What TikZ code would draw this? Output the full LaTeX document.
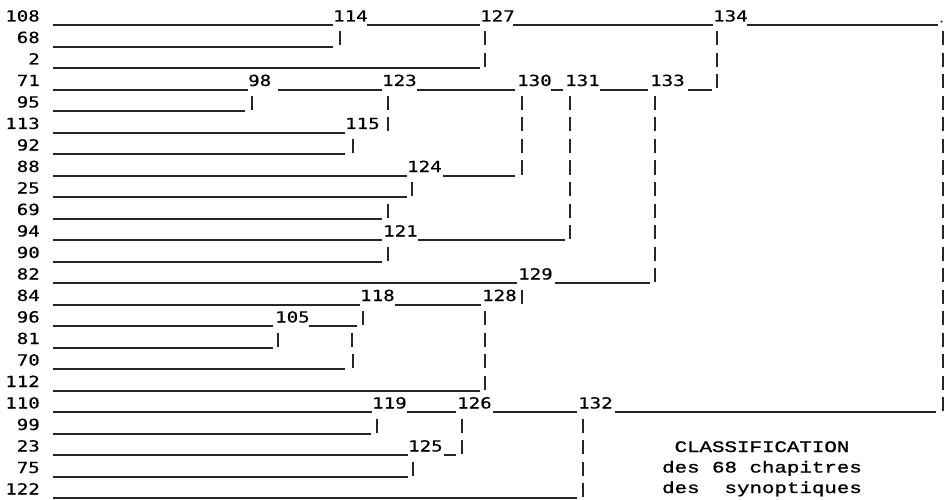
\documentclass[tikz,border=0pt]{standalone}
\usepackage{fontspec}
\newfontfamily\numfont{DejaVu Sans Mono}[FakeStretch=1.25, FakeBold=0.4]
\newfontfamily\capfont{Liberation Mono}[FakeStretch=1.3, FakeBold=1.2]
\tikzset{
  hline/.style={line width=1.8pt, draw=black!85},
  vbar/.style={line width=1.6pt, draw=black!85},
  numlab/.style={inner sep=0pt, font=\numfont\fontsize{15.3}{17}\selectfont, text=black},
  titletext/.style={inner sep=0pt, align=center, font=\capfont\fontsize{16}{20.5}\selectfont, text=black},
  enddotstyle/.style={circle, fill=black!85, inner sep=0pt, minimum size=2.4pt}
}
\newcommand\hseg[3]{\draw[hline] (#2,{round(25+21.5*#1)}) -- (#3,{round(25+21.5*#1)});}
\newcommand\vseg[2]{\draw[vbar] (#2,{10+21.5*#1}) -- (#2,{24+21.5*#1});}
\newcommand\inode[3]{\node[numlab, anchor=base west] (n#1) at (#3,{21.5+21.5*#2}) {#1};}
\begin{document}
\begin{tikzpicture}[x=1pt,y=-1pt]
\useasboundingbox[fill=white] (0,0) rectangle (945,500);
% leaf labels
\foreach \lf [count=\i from 0] in {108,68,2,71,95,113,92,88,25,69,94,90,82,84,96,81,70,112,110,99,23,75,122}{
  \node[numlab, anchor=base east] (l\lf) at (40,{21.5+21.5*\i}) {\lf};
}
% row 0
\hseg{0}{53}{333} \inode{114}{0}{333} \hseg{0}{367}{480} \inode{127}{0}{480}
\hseg{0}{513}{713} \inode{134}{0}{713} \hseg{0}{747}{938}
\node[enddotstyle] (enddot) at (941.5,21.5) {};
% right bar of 134
\foreach \r in {1,...,18}{\vseg{\r}{943}}
% row 1
\hseg{1}{53}{333} \vseg{1}{340} \vseg{1}{485} \vseg{1}{717}
% row 2
\hseg{2}{53}{480} \vseg{2}{485} \vseg{2}{717}
% row 3
\hseg{3}{53}{248} \inode{98}{3}{248} \hseg{3}{278}{382} \inode{123}{3}{382}
\hseg{3}{417}{515} \inode{130}{3}{517} \hseg{3}{551}{563} \inode{131}{3}{565}
\hseg{3}{600}{648} \inode{133}{3}{650} \hseg{3}{688}{712} \vseg{3}{717}
% row 4
\hseg{4}{53}{245} \vseg{4}{252} \vseg{4}{388} \vseg{4}{522} \vseg{4}{570} \vseg{4}{655}
% row 5
\hseg{5}{53}{345} \inode{115}{5}{345} \vseg{5}{388} \vseg{5}{522} \vseg{5}{570} \vseg{5}{655}
% row 6
\hseg{6}{53}{345} \vseg{6}{353} \vseg{6}{522} \vseg{6}{570} \vseg{6}{655}
% row 7
\hseg{7}{53}{407} \inode{124}{7}{407} \hseg{7}{443}{515} \vseg{7}{522} \vseg{7}{570} \vseg{7}{655}
% row 8
\hseg{8}{53}{407} \vseg{8}{412} \vseg{8}{570} \vseg{8}{655}
% row 9
\hseg{9}{53}{382} \vseg{9}{388} \vseg{9}{570} \vseg{9}{655}
% row 10
\hseg{10}{53}{382} \inode{121}{10}{383} \hseg{10}{418}{565} \vseg{10}{570} \vseg{10}{655}
% row 11
\hseg{11}{53}{382} \vseg{11}{388} \vseg{11}{655}
% row 12
\hseg{12}{53}{517} \inode{129}{12}{518} \hseg{12}{555}{650} \vseg{12}{655}
% row 13
\hseg{13}{53}{360} \inode{118}{13}{360} \hseg{13}{395}{481} \inode{128}{13}{482} \vseg{13}{522}
% row 14
\hseg{14}{53}{273} \inode{105}{14}{275} \hseg{14}{309}{357} \vseg{14}{363} \vseg{14}{485}
% row 15
\hseg{15}{53}{273} \vseg{15}{278} \vseg{15}{352} \vseg{15}{485}
% row 16
\hseg{16}{53}{345} \vseg{16}{353} \vseg{16}{485}
% row 17
\hseg{17}{53}{480} \vseg{17}{485}
% row 18
\hseg{18}{53}{372} \inode{119}{18}{372} \hseg{18}{407}{456} \inode{126}{18}{457}
\hseg{18}{493}{577} \inode{132}{18}{578} \hseg{18}{615}{936}
% row 19
\hseg{19}{53}{371} \vseg{19}{377} \vseg{19}{462} \vseg{19}{583}
% row 20
\hseg{20}{53}{408} \inode{125}{20}{408} \hseg{20}{444}{456} \vseg{20}{462} \vseg{20}{583}
% row 21
\hseg{21}{53}{408} \vseg{21}{413} \vseg{21}{583}
% row 22
\hseg{22}{53}{577} \vseg{22}{583}
% title
\node[titletext, anchor=base] (title) at (762,493) {CLASSIFICATION\\des 68 chapitres\\des\ \ synoptiques};
\end{tikzpicture}
\end{document}
